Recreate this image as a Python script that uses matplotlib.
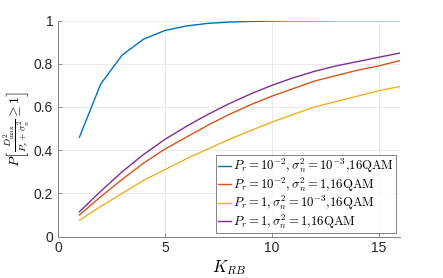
import matplotlib
matplotlib.use("Agg")
import matplotlib.pyplot as plt

plt.rcParams['font.family'] = ['Liberation Sans', 'DejaVu Sans']
plt.rcParams['mathtext.fontset'] = 'cm'

k_rb = list(range(1, 17))

# P_r = 1e-2, sigma^2 = 1e-3
p_a = [0.46, 0.707, 0.84, 0.914, 0.954, 0.975, 0.987, 0.993, 0.996, 0.998,
       0.999, 0.999, 1.0, 1.0, 1.0, 1.0]
# P_r = 1e-2, sigma^2 = 1
p_b = [0.10, 0.185, 0.265, 0.34, 0.405, 0.46, 0.515, 0.565, 0.61, 0.65,
       0.685, 0.72, 0.745, 0.77, 0.79, 0.815]
# P_r = 1, sigma^2 = 1e-3
p_c = [0.075, 0.14, 0.20, 0.26, 0.31, 0.36, 0.405, 0.45, 0.49, 0.53,
       0.565, 0.60, 0.625, 0.65, 0.675, 0.695]
# P_r = 1, sigma^2 = 1
p_d = [0.115, 0.21, 0.30, 0.38, 0.45, 0.51, 0.565, 0.615, 0.66, 0.70,
       0.735, 0.765, 0.79, 0.81, 0.83, 0.85]

etiquetas = [
    r'$P_r=10^{-2},\sigma_n^2=10^{-3}{,}\mathrm{16QAM}$',
    r'$P_r=10^{-2},\sigma_n^2=1{,}\mathrm{16QAM}$',
    r'$P_r=1,\sigma_n^2=10^{-3}{,}\mathrm{16QAM}$',
    r'$P_r=1,\sigma_n^2=1{,}\mathrm{16QAM}$',
]
cores = ['#0072BD', '#D95319', '#EDB120', '#7E2F8E']

fig = plt.figure(figsize=(4.43, 2.78), dpi=100)
ax = fig.add_axes([0.131, 0.149, 0.772, 0.777])

for serie, cor, lab in zip([p_a, p_b, p_c, p_d], cores, etiquetas):
    ax.plot(k_rb, serie, color=cor, linewidth=1.0, label=lab)

ax.set_xlim(0, 16)
ax.set_ylim(0, 1)
ax.set_xticks([0, 5, 10, 15])
ax.set_yticks([0, 0.2, 0.4, 0.6, 0.8, 1])
ax.set_yticklabels(['0', '0.2', '0.4', '0.6', '0.8', '1'])
ax.grid(True, color='#e6e6e6', linewidth=0.6)
ax.set_axisbelow(True)

for s in ['top', 'right']:
    ax.spines[s].set_visible(False)
for s in ['left', 'bottom']:
    ax.spines[s].set_color('#808080')
    ax.spines[s].set_linewidth(0.7)
ax.tick_params(colors='#262626', labelsize=10, direction='in', length=3,
               width=0.6)
ax.tick_params(axis='both', color='#808080')

ax.set_xlabel(r'$K_{RB}$', fontsize=12, labelpad=2)
ax.set_ylabel(r'$P\left[\frac{D^2_{\max}}{P_r+\sigma_n^2}\geq 1\right]$',
              fontsize=10, labelpad=1)

leg = ax.legend(loc='lower right', fontsize=9.2, frameon=True, fancybox=False,
                borderpad=0.15, labelspacing=0.0, handlelength=1.0,
                handletextpad=0.2, borderaxespad=0.3)
leg.get_frame().set_edgecolor('#262626')
leg.get_frame().set_linewidth(0.5)

fig.savefig('out.png', dpi=100)
